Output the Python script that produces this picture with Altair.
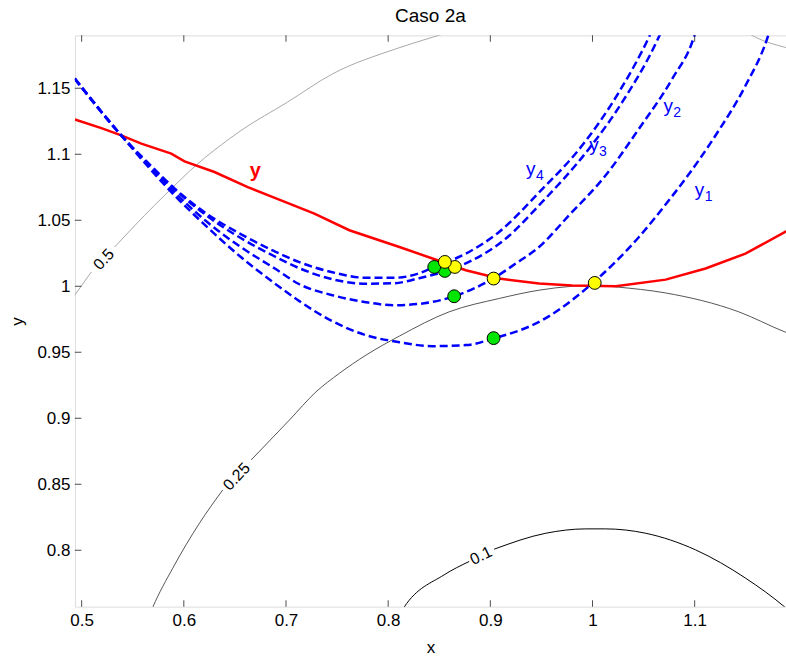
import altair as alt
import pandas as pd

# axis limits and tick positions
X_MIN, X_MAX = 0.4934, 1.1894
Y_MIN, Y_MAX = 0.7573, 1.19
x_ticks = [0.5, 0.6, 0.7, 0.8, 0.9, 1.0, 1.1]
y_ticks = [0.8, 0.85, 0.9, 0.95, 1.0, 1.05, 1.1, 1.15]

# solid red curve "y"
y_x = [0.4934, 0.5193, 0.5388, 0.5584, 0.5877, 0.6007, 0.63, 0.6626, 0.6952, 0.7278, 0.762, 0.811,
       0.8434, 0.876, 0.9086, 0.9477, 0.98, 1.0227, 1.0716, 1.1107, 1.1497, 1.1882, 1.195]
y_y = [1.1263, 1.1198, 1.1142, 1.108, 1.1004, 1.0946, 1.0865, 1.0751, 1.065, 1.055, 1.0424, 1.0297,
       1.021, 1.0121, 1.0058, 1.002, 1.0005, 1.0, 1.005, 1.0134, 1.0247, 1.041, 1.0438]

# dashed blue curves y1..y4
y1_x = [0.4932, 0.5388, 0.5665, 0.5909, 0.6232, 0.6561, 0.6887, 0.7131, 0.7454, 0.7783, 0.8109,
        0.8431, 0.8763, 0.9027, 0.9509, 1.0015, 1.0455, 1.0748, 1.0911, 1.1204, 1.1498, 1.1709, 1.1735]
y1_y = [1.1573, 1.1142, 1.0893, 1.0688, 1.0446, 1.0219, 1.0023, 0.9887, 0.9735, 0.9629, 0.9576,
        0.9546, 0.9554, 0.9603, 0.9743, 1.0033, 1.0373, 1.0651, 1.0815, 1.1142, 1.152, 1.1874, 1.1936]
y2_x = [0.4932, 0.5388, 0.5665, 0.5909, 0.6232, 0.6561, 0.6887, 0.7131, 0.7454, 0.7783, 0.806, 0.8353,
        0.8646, 0.9027, 0.9249, 0.9477, 0.977, 1.0129, 1.0455, 1.078, 1.0992, 1.1012]
y2_y = [1.1573, 1.1142, 1.0908, 1.0711, 1.0484, 1.0295, 1.0136, 1.0015, 0.9932, 0.9879, 0.9856, 0.9871,
        0.9924, 1.0058, 1.0172, 1.0297, 1.0537, 1.084, 1.1193, 1.1571, 1.1886, 1.1936]
y3_x = [0.4932, 0.5388, 0.5665, 0.5909, 0.6232, 0.6561, 0.6887, 0.7131, 0.7454, 0.7783, 0.806, 0.8304,
        0.8555, 0.8825, 0.9152, 0.9477, 0.9966, 1.0291, 1.0633, 1.066]
y3_y = [1.1573, 1.1142, 1.0915, 1.0734, 1.053, 1.0363, 1.0227, 1.0136, 1.0053, 1.0019, 1.0023, 1.0061,
        1.0113, 1.0197, 1.0361, 1.0613, 1.1042, 1.1394, 1.1861, 1.1906]
y4_x = [0.4932, 0.5388, 0.5665, 0.5909, 0.6232, 0.6561, 0.6887, 0.7131, 0.7454, 0.7783, 0.806, 0.8304,
        0.8451, 0.8761, 0.9086, 0.9477, 0.99, 1.0259, 1.0552, 1.0582]
y4_y = [1.1573, 1.1142, 1.0923, 1.0741, 1.0545, 1.0393, 1.0265, 1.0182, 1.0106, 1.0064, 1.0064, 1.0098,
        1.0146, 1.0247, 1.0411, 1.0711, 1.1067, 1.147, 1.1886, 1.1936]

# marker points on the curves
green_x = [0.9032, 0.8646, 0.8555, 0.8451]
green_y = [0.9607, 0.9924, 1.0116, 1.0146]
yellow_x = [1.0022, 0.9032, 0.8653, 0.8555]
yellow_y = [1.0025, 1.0058, 1.0146, 1.0184]

# contour lines, split where the level labels sit
c50a_x = [0.485, 0.4932, 0.5095]
c50a_y = [0.9843, 0.9932, 1.0108]
c50b_x = [0.5323, 0.5616, 0.5811, 0.6137, 0.6447, 0.6561, 0.7014, 0.7457, 0.8076, 0.8434, 0.8646]
c50b_y = [1.0297, 1.0537, 1.0688, 1.0928, 1.1117, 1.118, 1.1394, 1.1609, 1.1798, 1.1886, 1.1936]
c50c_x = [1.1481, 1.1595, 1.1882, 1.2019]
c50c_y = [1.1936, 1.1886, 1.181, 1.1785]
c25a_x = [0.5665, 0.5697, 0.5892, 0.6153, 0.6381]
c25a_y = [0.7511, 0.757, 0.7865, 0.8205, 0.8457]
c25b_x = [0.6659, 0.7033, 0.7294, 0.7522, 0.7783, 0.8109, 0.8597, 0.9086, 0.9477, 0.9803, 1.0031,
          1.0227, 1.0716, 1.1432, 1.1882, 1.2019]
c25b_y = [0.8684, 0.8986, 0.92, 0.934, 0.9478, 0.9622, 0.9806, 0.9907, 0.997, 1.0, 1.0008,
          0.9995, 0.9949, 0.9806, 0.9654, 0.9614]
c10a_x = [0.8109, 0.8157, 0.8548, 0.8793]
c10a_y = [0.7511, 0.757, 0.7814, 0.7915]
c10b_x = [0.9037, 0.9543, 0.9934, 1.0129, 1.052, 1.1009, 1.1498, 1.1882, 1.197]
c10b_y = [0.8008, 0.8129, 0.8162, 0.8162, 0.8129, 0.8003, 0.7789, 0.757, 0.7511]

# contour level labels
clab_text = ["0.5", "0.25", "0.1"]
clab_x = [0.5217, 0.6518, 0.891]
clab_y = [1.0203, 0.8558, 0.7958]
clab_angle = [313, 313, 334]

# curve name labels
red_lab_x, red_lab_y = [0.6699], [1.0871]
blue_lab_sub = ["1", "2", "3", "4"]
blue_lab_x = [1.1048, 1.0741, 1.0015, 0.9396]
blue_lab_y = [1.0731, 1.1362, 1.1067, 1.089]

FONT = "Liberation Sans"


def series(name, xs, ys):
    return pd.DataFrame({"x": xs, "y": ys, "s": name, "i": range(len(xs))})


contours = pd.concat([
    series("a50", c50a_x, c50a_y).assign(level="0.5"),
    series("b50", c50b_x, c50b_y).assign(level="0.5"),
    series("c50", c50c_x, c50c_y).assign(level="0.5"),
    series("a25", c25a_x, c25a_y).assign(level="0.25"),
    series("b25", c25b_x, c25b_y).assign(level="0.25"),
    series("a10", c10a_x, c10a_y).assign(level="0.1"),
    series("b10", c10b_x, c10b_y).assign(level="0.1"),
])
blue = pd.concat([series("y1", y1_x, y1_y), series("y2", y2_x, y2_y),
                  series("y3", y3_x, y3_y), series("y4", y4_x, y4_y)])
red = series("y", y_x, y_y)
greens = pd.DataFrame({"x": green_x, "y": green_y})
yellows = pd.DataFrame({"x": yellow_x, "y": yellow_y})
clabels = pd.DataFrame({"x": clab_x, "y": clab_y, "t": clab_text, "a": clab_angle})
red_lab = pd.DataFrame({"x": red_lab_x, "y": red_lab_y, "t": ["y"]})
blue_lab = pd.DataFrame({"x": blue_lab_x, "y": blue_lab_y, "sub": blue_lab_sub, "t": "y"})
xt = pd.DataFrame({"x": x_ticks})
yt = pd.DataFrame({"y": y_ticks})

xs = alt.Scale(domain=[X_MIN, X_MAX], nice=False, zero=False)
ys = alt.Scale(domain=[Y_MIN, Y_MAX], nice=False, zero=False)
x_axis = alt.Axis(values=x_ticks, format="~f", ticks=False, domain=False, grid=False,
                  labelFont=FONT, labelFontSize=17, labelColor="black", labelPadding=6,
                  labelFlush=False, labelOverlap=False, title="x", titleFont=FONT,
                  titleFontSize=17, titleFontWeight="normal", titleColor="black",
                  titleY=46, titleBaseline="alphabetic")
y_axis = alt.Axis(values=y_ticks, format="~f", ticks=False, domain=False, grid=False,
                  labelFont=FONT, labelFontSize=17, labelColor="black", labelPadding=5,
                  labelFlush=False, labelOverlap=False, title="y", titleFont=FONT,
                  titleFontSize=17, titleFontWeight="normal", titleColor="black",
                  titleX=-52, titleBaseline="alphabetic")


def X(field="x:Q"):
    return alt.X(field, scale=xs, axis=x_axis)


def Y(field="y:Q"):
    return alt.Y(field, scale=ys, axis=y_axis)


contour_layer = alt.Chart(contours).mark_line(strokeWidth=1, clip=True,
                                              interpolate="monotone").encode(
    x=X(), y=Y(),
    color=alt.Color("level:N", scale=alt.Scale(domain=["0.5", "0.25", "0.1"],
                                               range=["#a8a8a8", "#555555", "#000000"]),
                    legend=None),
    detail="s:N", order="i:Q")

contour_text = alt.Chart(clabels).mark_text(font=FONT, fontSize=16, color="black",
                                            align="center", baseline="middle").encode(
    x=X(), y=Y(), text="t:N", angle=alt.Angle("a:Q", scale=None))

red_layer = alt.Chart(red).mark_line(color="#ff0000", strokeWidth=2.5, clip=True).encode(
    x=X(), y=Y(), order="i:Q")

blue_layer = alt.Chart(blue).mark_line(color="#0000ff", strokeWidth=2.5, strokeDash=[8, 4],
                                       clip=True, interpolate="monotone").encode(
    x=X(), y=Y(), detail="s:N", order="i:Q")

green_layer = alt.Chart(greens).mark_point(shape="circle", filled=True, size=165, opacity=1,
                                           fill="#00e600", stroke="#000000",
                                           strokeWidth=1).encode(x=X(), y=Y())
yellow_layer = alt.Chart(yellows).mark_point(shape="circle", filled=True, size=165, opacity=1,
                                             fill="#ffff00", stroke="#000000",
                                             strokeWidth=1).encode(x=X(), y=Y())

red_text = alt.Chart(red_lab).mark_text(font=FONT, fontSize=20, fontWeight="bold",
                                        color="#ff0000", baseline="middle").encode(
    x=X(), y=Y(), text="t:N")
blue_text = alt.Chart(blue_lab).mark_text(font=FONT, fontSize=19, color="#0000ff",
                                          baseline="middle").encode(x=X(), y=Y(), text="t:N")
blue_sub = alt.Chart(blue_lab).mark_text(font=FONT, fontSize=14, color="#0000ff",
                                         baseline="middle", dx=9, dy=7).encode(
    x=X(), y=Y(), text="sub:N")

# inward tick marks on the bottom, top and left edges of the box
tick_bottom = alt.Chart(xt).mark_tick(orient="vertical", size=13, thickness=1, color="black",
                                      clip=True).encode(
    x=X(), y=alt.Y(datum=Y_MIN, scale=ys, axis=y_axis))
tick_top = alt.Chart(xt).mark_tick(orient="vertical", size=13, thickness=1, color="black",
                                   clip=True).encode(
    x=X(), y=alt.Y(datum=Y_MAX, scale=ys, axis=y_axis))
tick_left = alt.Chart(yt).mark_tick(orient="horizontal", size=13, thickness=1, color="black",
                                    clip=True).encode(
    x=alt.X(datum=X_MIN, scale=xs, axis=x_axis), y=Y())

chart = alt.layer(
    contour_layer, contour_text, red_layer, blue_layer, green_layer, yellow_layer,
    red_text, blue_text, blue_sub, tick_bottom, tick_top, tick_left,
).properties(
    width=712, height=572,
    title=alt.Title("Caso 2a", font=FONT, fontSize=19, fontWeight="normal", color="black",
                    anchor="middle", offset=9),
    padding={"left": 75, "top": 35, "right": 0, "bottom": 51},
    autosize=alt.AutoSizeParams(type="none"),
).configure_view(stroke="#000000", strokeWidth=1.2).configure(background="white")

chart.save("out.html", embed_options={"renderer": "svg", "actions": False})
